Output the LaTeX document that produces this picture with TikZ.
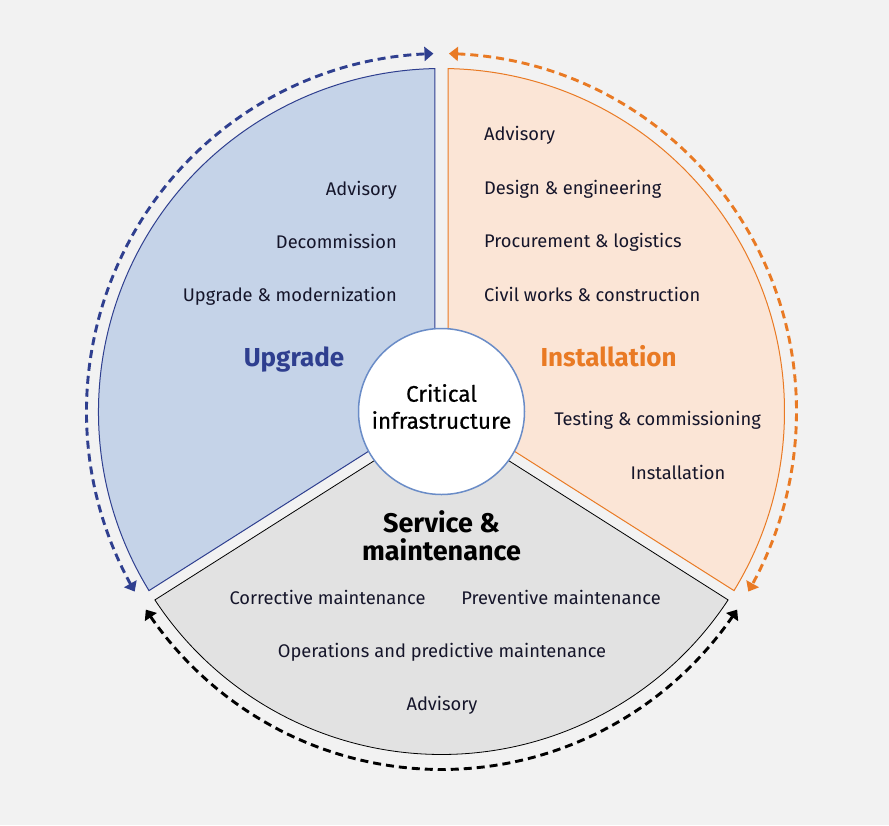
\documentclass[tikz,border=0pt]{standalone}
\usepackage{fontspec}
\setmainfont{Fira Sans}
\newfontfamily\semib[FakeBold=0.5]{Fira Sans}
\usetikzlibrary{arrows.meta,bending,calc}
\definecolor{bg}{HTML}{F2F2F2}
\definecolor{upfill}{HTML}{C5D3E8}
\definecolor{updark}{HTML}{2F3F8F}
\definecolor{infill}{HTML}{FBE5D6}
\definecolor{indark}{HTML}{E97A24}
\definecolor{svfill}{HTML}{E2E2E2}
\definecolor{ringblue}{HTML}{6A8CC7}
\definecolor{txt}{HTML}{15152A}
\tikzset{
  item/.style={inner sep=0pt, text=txt, font=\fontsize{18.3}{22}\selectfont},
  ttl/.style={inner sep=0pt, font=\bfseries\fontsize{26}{30}\selectfont},
  cyc/.style={line width=2.9pt, dash pattern=on 8pt off 5pt,
    {Triangle[length=9pt,width=14pt]}-{Triangle[length=9pt,width=14pt]}},
}
\begin{document}
\begin{tikzpicture}[x=1pt,y=1pt]
\useasboundingbox (0,0) rectangle (889,-825);
\fill[bg] (0,0) rectangle (889,-825);
\coordinate (C) at (441.5,-411.5);
\coordinate (ui) at (435,-409.1);
\coordinate (ii) at (448,-409.1);
\coordinate (si) at (441.5,-418);
% sectors
\path[draw=updark, fill=upfill, line width=1pt] (ui) -- ($(C)+(211.48:343)$) arc[start angle=211.48, end angle=91.09, radius=343] -- cycle;
\path[draw=indark, fill=infill, line width=1pt] (ii) -- ($(C)+(88.91:343)$) arc[start angle=88.91, end angle=-31.48, radius=343] -- cycle;
\path[draw=black, fill=svfill, line width=0.8pt] (si) -- ($(C)+(213.32:343)$) arc[start angle=213.32, end angle=326.68, radius=343] -- cycle;
% dashed cycle arcs
\draw[cyc, updark] ($(C)+(210.2:355 and 358)$) arc[start angle=210.2, end angle=91.3, x radius=355, y radius=358];
\draw[cyc, indark] ($(C)+(88.8:355 and 358)$) arc[start angle=88.8, end angle=-30.2, x radius=355, y radius=358];
\draw[cyc, black] ($(C)+(213.6:355 and 358)$) arc[start angle=213.6, end angle=326.4, x radius=355, y radius=358];
% centre
\node[circle, draw=ringblue, line width=1.5pt, fill=white, minimum size=166pt, inner sep=0pt] (core) at (C) {};
\node[inner sep=0pt, font=\semib\fontsize{22.5}{26}\selectfont, anchor=base] (crit) at (441.5,-401.7) {Critical};
\node[inner sep=0pt, font=\semib\fontsize{22.5}{26}\selectfont, anchor=base] (infra) at (441.5,-428.7) {infrastructure};
% upgrade
\node[ttl, text=updark, anchor=base] (tup) at (294,-366.7) {Upgrade};
\node[item, anchor=base east] (u1) at (397,-195) {Advisory};
\node[item, anchor=base east] (u2) at (397,-248) {Decommission};
\node[item, anchor=base east] (u3) at (397,-301) {Upgrade \& modernization};
% installation
\node[ttl, text=indark, anchor=base] (tin) at (608.5,-366.7) {Installation};
\node[item, anchor=base west] (i1) at (484,-140) {Advisory};
\node[item, anchor=base west] (i2) at (484,-194) {Design \& engineering};
\node[item, anchor=base west] (i3) at (484,-247) {Procurement \& logistics};
\node[item, anchor=base west] (i4) at (484,-301) {Civil works \& construction};
\node[item, anchor=base] (i5) at (657.5,-425.7) {Testing \& commissioning};
\node[item, anchor=base] (i6) at (678,-479) {Installation};
% service
\node[ttl, anchor=base, font=\bfseries\fontsize{27}{31}\selectfont] (ts1) at (441.5,-532.3) {Service \&};
\node[ttl, anchor=base, font=\bfseries\fontsize{27}{31}\selectfont] (ts2) at (441.5,-560) {maintenance};
\node[item, anchor=base] (s1) at (327.5,-604) {Corrective maintenance};
\node[item, anchor=base] (s2) at (561,-604) {Preventive maintenance};
\node[item, anchor=base] (s3) at (442,-657.3) {Operations and predictive maintenance};
\node[item, anchor=base] (s4) at (442,-710) {Advisory};
\end{tikzpicture}
\end{document}
